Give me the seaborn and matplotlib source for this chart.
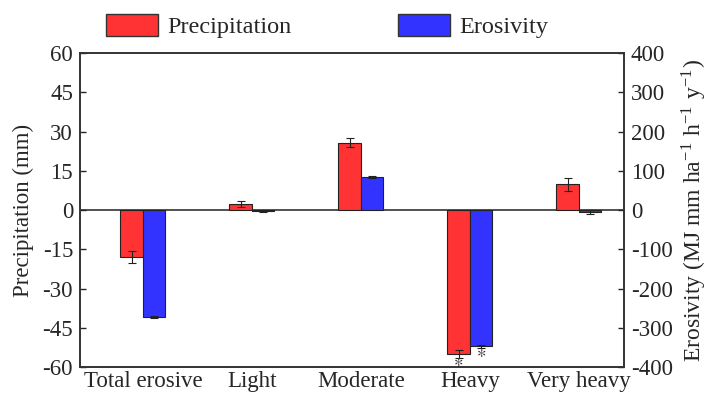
import matplotlib
matplotlib.use("Agg")
import matplotlib.pyplot as plt
import seaborn as sns
import pandas as pd
import numpy as np
from matplotlib.patches import Patch

categories = ["Total erosive", "Light", "Moderate", "Heavy", "Very heavy"]
precip = [-17.8, 2.3, 25.8, -55.0, 9.8]
precip_err = [2.3, 1.3, 1.7, 1.6, 2.5]
erosivity = [-273, -3, 84, -347, -4]
erosivity_err = [2, 1.5, 2.5, 4, 5]
series = ["Precipitation", "Erosivity"]
colors = {"Precipitation": "#ff3333", "Erosivity": "#3333ff"}

sns.set_style("ticks")
plt.rcParams["font.family"] = ["Liberation Serif", "DejaVu Serif"]
plt.rcParams["mathtext.fontset"] = "stix"
plt.rcParams["axes.unicode_minus"] = False

df = pd.DataFrame({
    "cat": categories * 2,
    "series": ["Precipitation"] * 5 + ["Erosivity"] * 5,
    "p": precip + [np.nan] * 5,
    "e": [np.nan] * 5 + erosivity,
})

fig = plt.figure(figsize=(7.08, 4.03), dpi=100)
ax1 = fig.add_axes([0.113, 0.0893, 0.768, 0.7787])
ax2 = ax1.twinx()

common = dict(x="cat", hue="series", hue_order=series, order=categories, palette=colors,
              width=0.413, gap=0, errorbar=None, edgecolor="#222222", linewidth=0.8,
              saturation=1, legend=False)
sns.barplot(data=df, y="p", ax=ax1, **common)
sns.barplot(data=df, y="e", ax=ax2, **common)

def add_err(ax, vals, errs):
    bars = [p for p in ax.patches if p.get_height() != 0 and not np.isnan(p.get_height())]
    for b, v, e in zip(bars, vals, errs):
        xc = b.get_x() + b.get_width() / 2
        ax.errorbar(xc, v, yerr=e, color="#222222", capsize=3, elinewidth=0.8,
                    capthick=0.8, fmt="none")
    return bars

pb = add_err(ax1, precip, precip_err)
eb = add_err(ax2, erosivity, erosivity_err)

# significance markers for Heavy
hb = pb[3]
ax1.text(hb.get_x() + hb.get_width() / 2, precip[3] - precip_err[3] - 1.3, r"$\ast$",
         ha="center", va="center", fontsize=13, color="#333333")
he = eb[3]
ax2.text(he.get_x() + he.get_width() / 2, erosivity[3] - erosivity_err[3] - 12, r"$\ast$",
         ha="center", va="center", fontsize=13, color="#333333")

ax1.set_xlim(-0.578, 4.413)
ax1.set_ylim(-60, 60)
ax2.set_ylim(-400, 400)
ax1.set_yticks(np.arange(-60, 61, 15))
ax2.set_yticks(np.arange(-400, 401, 100))
ax1.axhline(0, color="#333333", lw=1.2, zorder=0)

ax1.set_xlabel("")
ax1.set_ylabel("Precipitation (mm)", fontsize=16.5, labelpad=6)
ax2.set_ylabel(r"Erosivity (MJ mm ha$^{\mathregular{-1}}$ h$^{\mathregular{-1}}$ y$^{\mathregular{-1}}$)",
               fontsize=17, labelpad=5)

for ax in (ax1, ax2):
    ax.tick_params(axis="y", direction="in", length=4, labelsize=16.5, width=1, pad=5)
    for s in ax.spines.values():
        s.set_color("#333333")
        s.set_linewidth(1.2)
ax1.tick_params(axis="x", length=0, labelsize=16.5, pad=3)

handles = [Patch(facecolor=colors[s], edgecolor="#333333", label=s) for s in series]
fig.legend(handles=handles, loc="center", bbox_to_anchor=(0.462, 0.935), ncol=2,
           frameon=False, fontsize=17.5, handlelength=2.15, handleheight=1.05,
           columnspacing=4.4, handletextpad=0.35)

fig.savefig("out.png", dpi=100)
